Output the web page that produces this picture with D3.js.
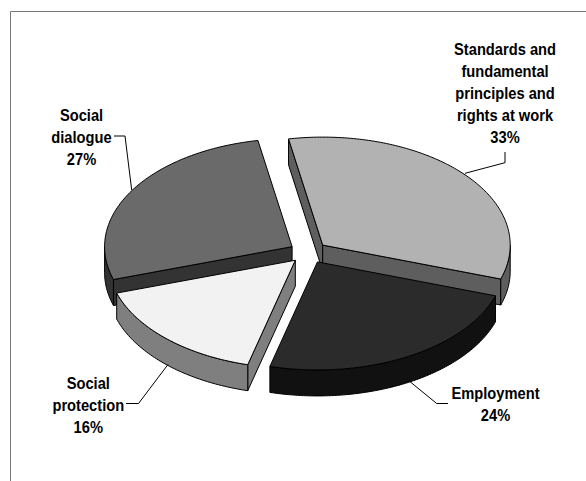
<!DOCTYPE html>
<html>
<head>
<meta charset="utf-8">
<script src="https://cdn.jsdelivr.net/npm/d3@7/dist/d3.min.js"></script>
<style>
  html, body { margin: 0; padding: 0; background: #fff; }
  svg { display: block; }
  text { font-family: "Liberation Sans", Arial, sans-serif; font-weight: bold; font-size: 16.5px; fill: #000; }
</style>
</head>
<body>
<svg id="chart" width="586" height="481"></svg>
<script>
// Share of each area of work, in per cent, clockwise from the back of the pie
const categories = ["Standards and fundamental principles and rights at work", "Employment", "Social protection", "Social dialogue"];
const shares = [33, 24, 16, 27];
const topColors = ["#b2b2b2", "#2b2b2b", "#f2f2f2", "#6a6a6a"];
const wallColors = ["#5e5e5e", "#111111", "#7f7f7f", "#333333"];
const paintOrder = [0, 3, 1, 2];

const labelLines = [
  ["Standards and", "fundamental", "principles and", "rights at work", "33%"],
  ["Employment", "24%"],
  ["Social", "protection", "16%"],
  ["Social", "dialogue", "27%"]
];
const labelAnchors = [[505, 55.5, 22], [495.5, 399, 22.5], [88.3, 389, 22], [81.5, 121, 22]];
const leaders = [
  [[465, 173.3], [505, 162.7], [505, 152]],
  [[410, 381.7], [436.7, 403.5], [448, 403.5]],
  [[168, 364.5], [138.5, 403.5], [126, 403.5]],
  [[131.7, 190], [125, 136], [114, 136]]
];
const labelSqueeze = 0.89;

// Pie projection: a tilted disc with an extruded rim, slices pulled away from the centre
const cx = 308.4, cy = 252.3, rx = 187.5, ry = 108, depth = 26, explode = 19;
const startAngle = -10.5 * Math.PI / 180;

const svg = d3.select("#chart");

// Outer frame, open on the right and at the bottom
svg.append("path")
  .attr("d", "M10.5,481V11.5H586")
  .attr("fill", "none")
  .attr("stroke", "#777")
  .attr("stroke-width", 1);

const pie = d3.pie().sort(null).startAngle(startAngle).endAngle(startAngle + 2 * Math.PI);
const slices = pie(shares).map((d, i) => ({ ...d, i }));

const project = (a, r = 1) => [rx * r * Math.sin(a), -ry * r * Math.cos(a)];
const line = d3.line();
const arcPoints = (a0, a1) => {
  const n = Math.max(2, Math.ceil((a1 - a0) * 60));
  return d3.range(n + 1).map(k => project(a0 + (a1 - a0) * k / n));
};

const order = paintOrder.map(i => slices[i]);
const groups = svg.selectAll("g.slice").data(order).join("g")
  .attr("class", "slice")
  .attr("transform", d => {
    const mid = (d.startAngle + d.endAngle) / 2;
    const ox = explode * Math.sin(mid);
    const oy = -explode * (ry / rx) * Math.cos(mid);
    return `translate(${cx + ox},${cy + oy})`;
  });

const strokeIt = sel => sel
  .attr("stroke", "#000")
  .attr("stroke-width", 1)
  .attr("stroke-linejoin", "round");

groups.each(function (d) {
  const g = d3.select(this);
  const wall = wallColors[d.i];
  const flat = (a) => {
    const p = project(a);
    return [[0, 0], p, [p[0], p[1] + depth], [0, depth]];
  };
  // Radial cut faces turned towards the viewer
  if (Math.sin(d.startAngle) < 0) {
    g.append("path").attr("d", line(flat(d.startAngle)) + "Z").attr("fill", wall).call(strokeIt);
  }
  if (Math.sin(d.endAngle) > 0) {
    g.append("path").attr("d", line(flat(d.endAngle)) + "Z").attr("fill", wall).call(strokeIt);
  }
  // Front part of the curved rim
  const a0 = Math.max(d.startAngle, Math.PI / 2);
  const a1 = Math.min(d.endAngle, 3 * Math.PI / 2);
  if (a1 > a0) {
    const upper = arcPoints(a0, a1);
    const lower = upper.map(p => [p[0], p[1] + depth]).reverse();
    g.append("path").attr("d", line(upper.concat(lower)) + "Z").attr("fill", wall).call(strokeIt);
  }
  // Top face
  const top = [[0, 0]].concat(arcPoints(d.startAngle, d.endAngle));
  g.append("path").attr("d", line(top) + "Z").attr("fill", topColors[d.i]).call(strokeIt);
});

// Leader lines from each slice to its label
svg.selectAll("path.leader").data(leaders).join("path")
  .attr("class", "leader")
  .attr("d", d => line(d))
  .attr("fill", "none")
  .attr("stroke", "#000")
  .attr("stroke-width", 1);

// Category labels with their percentages, set condensed
svg.selectAll("text.label").data(labelLines).join("text")
  .attr("class", "label")
  .attr("text-anchor", "middle")
  .attr("transform", (_, i) => `translate(${labelAnchors[i][0]},0) scale(${labelSqueeze},1)`)
  .each(function (lines, i) {
    const [, y, step] = labelAnchors[i];
    d3.select(this).selectAll("tspan").data(lines).join("tspan")
      .attr("x", 0)
      .attr("y", (_, k) => y + k * step)
      .text(t => t);
  });
</script>
</body>
</html>
